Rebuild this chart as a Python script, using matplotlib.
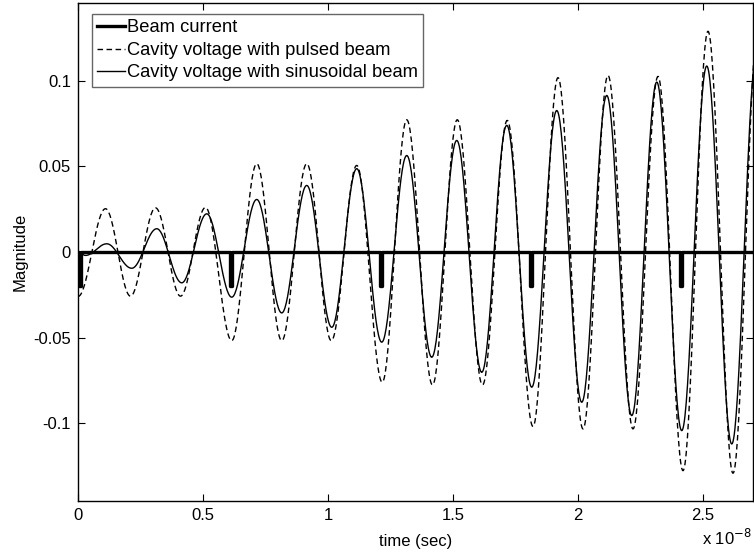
import numpy as np
import matplotlib.pyplot as plt

plt.rcParams['font.family'] = ['Liberation Sans', 'DejaVu Sans']

##-----     DATA (time in units of 1e-8 s)     -----
# extrema of the cavity voltage with pulsed beam
pulsed_t = [0.0, 0.11, 0.21, 0.31, 0.41, 0.51, 0.615, 0.715, 0.815, 0.915,
            1.013, 1.115, 1.217, 1.315, 1.418, 1.517, 1.618, 1.717, 1.82, 1.92,
            2.02, 2.12, 2.22, 2.32, 2.42, 2.52, 2.62, 2.72]
pulsed_v = [-0.026, 0.0253, -0.0258, 0.0258, -0.0258, 0.026, -0.0518, 0.0516,
            -0.0518, 0.0516, -0.0518, 0.0506, -0.0761, 0.0773, -0.0777, 0.0773,
            -0.0777, 0.0769, -0.102, 0.1019, -0.1034, 0.1032, -0.1034, 0.1026,
            -0.1278, 0.129, -0.1293, 0.13]

# extrema of the cavity voltage with sinusoidal beam
sine_t = [0.0, 0.03, 0.115, 0.215, 0.315, 0.415, 0.515, 0.615, 0.715, 0.815,
          0.915, 1.015, 1.115, 1.215, 1.315, 1.415, 1.515, 1.615, 1.715, 1.815,
          1.915, 2.015, 2.115, 2.215, 2.315, 2.415, 2.515, 2.615, 2.715]
sine_v = [0.0, -0.002, 0.0048, -0.0095, 0.0136, -0.018, 0.0223, -0.0264,
          0.0307, -0.0356, 0.0389, -0.044, 0.0487, -0.0527, 0.0564, -0.0615,
          0.0652, -0.0703, 0.074, -0.079, 0.0827, -0.0878, 0.0915, -0.0956,
          0.0993, -0.1044, 0.1087, -0.1122, 0.116]

# beam current pulses
pulse_t = [0.005, 0.607, 1.207, 1.807, 2.407]
pulse_w = 0.008
pulse_h = -0.02
t_end = 2.7

##-----     HELPERS     -----
def wave(t_ext, v_ext, n=40):
    # half-cosine strokes between the read-off extrema
    xs, ys = [], []
    for i in range(len(t_ext) - 1):
        s = np.linspace(0, 1, n)
        xs.append(t_ext[i] + (t_ext[i+1] - t_ext[i])*s)
        ys.append(v_ext[i] + (v_ext[i+1] - v_ext[i])*(1 - np.cos(np.pi*s))/2)
    return np.concatenate(xs), np.concatenate(ys)

def beam(times, w, h, tmax):
    xs, ys = [0.0], [0.0]
    for t in times:
        xs += [t, t, t + w, t + w]
        ys += [0.0, h, h, 0.0]
    xs.append(tmax)
    ys.append(0.0)
    return xs, ys

##-----     PLOT     -----
fig = plt.figure(figsize=(7.54, 5.55), dpi=100)
ax = fig.add_axes([78/754, 54/555, 675/754, 498/555])

bx, by = beam(pulse_t, pulse_w, pulse_h, t_end)
px, py = wave(pulsed_t, pulsed_v)
sx, sy = wave(sine_t, sine_v)

ax.plot(bx, by, '-', color='black', lw=2.4, label='Beam current', zorder=3)
ax.plot(px, py, color='black', lw=1.0, linestyle=(0, (4, 2.5)),
        label='Cavity voltage with pulsed beam')
ax.plot(sx, sy, '-', color='black', lw=1.0,
        label='Cavity voltage with sinusoidal beam')

ax.set_xlim(0, t_end)
ax.set_ylim(-0.1455, 0.1455)
ax.set_xticks([0, 0.5, 1, 1.5, 2, 2.5])
ax.set_xticklabels(['0', '0.5', '1', '1.5', '2', '2.5'])
ax.set_yticks([-0.1, -0.05, 0, 0.05, 0.1])
ax.set_yticklabels(['-0.1', '-0.05', '0', '0.05', '0.1'])
ax.tick_params(direction='in', top=True, right=True, length=5, width=0.8,
               labelsize=12, pad=5)
for sp in ax.spines.values():
    sp.set_linewidth(1.0)

ax.set_xlabel('time (sec)', fontsize=12, labelpad=8)
ax.set_ylabel('Magnitude', fontsize=12, labelpad=4)
ax.text(0.998, -0.075, r'x 10$^{-8}$', transform=ax.transAxes, ha='right',
        va='center', fontsize=12)

leg = ax.legend(loc='upper left', bbox_to_anchor=(0.0207, 0.978),
                borderaxespad=0, fontsize=13.2, handlelength=1.5,
                handletextpad=0.1, labelspacing=0.3, borderpad=0.3,
                fancybox=False, framealpha=1)
leg.get_frame().set_edgecolor('#666666')
leg.get_frame().set_linewidth(1.0)

plt.savefig('out.png', dpi=100)
plt.close()
